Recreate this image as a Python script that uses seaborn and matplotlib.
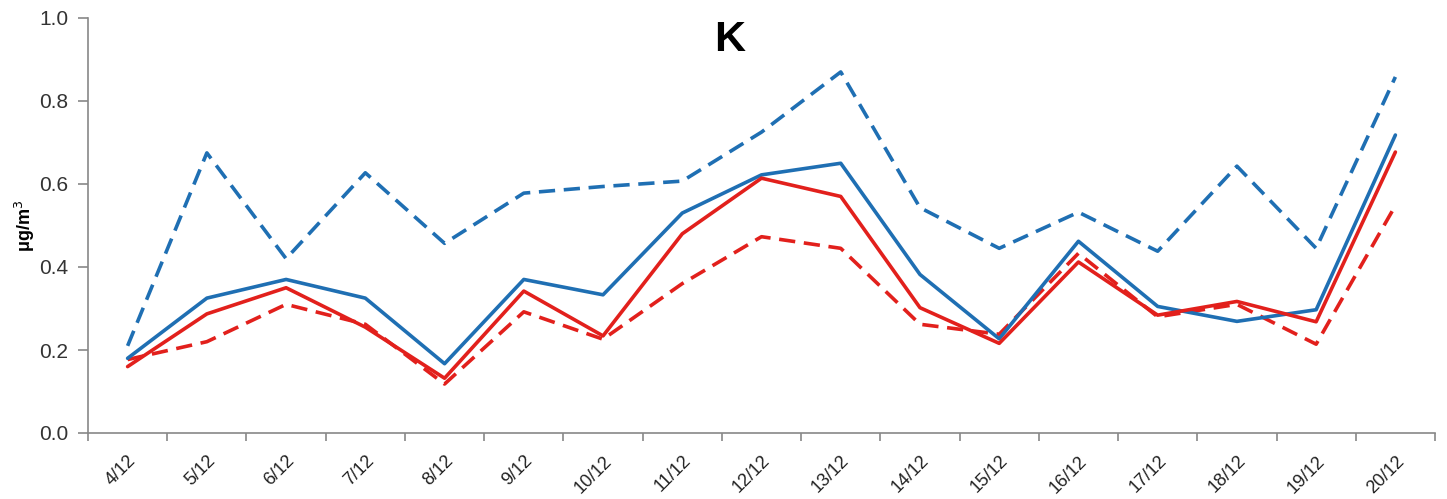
import numpy as np
import pandas as pd
import matplotlib
matplotlib.use("Agg")
import matplotlib.pyplot as plt
import seaborn as sns

dates = ["4/12", "5/12", "6/12", "7/12", "8/12", "9/12", "10/12", "11/12", "12/12",
         "13/12", "14/12", "15/12", "16/12", "17/12", "18/12", "19/12", "20/12"]

blue_solid = [0.18, 0.325, 0.37, 0.325, 0.167, 0.37, 0.333, 0.53, 0.622, 0.65,
              0.382, 0.227, 0.462, 0.305, 0.269, 0.297, 0.718]
red_solid = [0.16, 0.287, 0.35, 0.255, 0.132, 0.342, 0.234, 0.48, 0.614, 0.57,
             0.302, 0.216, 0.412, 0.284, 0.317, 0.268, 0.677]
blue_dashed = [0.21, 0.675, 0.42, 0.627, 0.457, 0.578, 0.594, 0.607, 0.725, 0.87,
               0.543, 0.445, 0.532, 0.438, 0.643, 0.445, 0.858]
red_dashed = [0.177, 0.22, 0.31, 0.262, 0.118, 0.292, 0.226, 0.36, 0.473, 0.445,
              0.262, 0.238, 0.433, 0.28, 0.31, 0.214, 0.548]

series = {"blue_solid": blue_solid, "red_solid": red_solid,
          "blue_dashed": blue_dashed, "red_dashed": red_dashed}

rows = []
for name, vals in series.items():
    for i, v in enumerate(vals):
        rows.append({"idx": i, "value": v, "series": name})
df = pd.DataFrame(rows)

sns.set_style("white")
plt.rcParams["font.family"] = ["Liberation Sans", "DejaVu Sans"]

BLUE = "#1f6fb3"
RED = "#e2201c"
palette = {"blue_solid": BLUE, "red_solid": RED, "blue_dashed": BLUE, "red_dashed": RED}
dashes = {"blue_solid": "", "red_solid": "", "blue_dashed": (4.5, 2.4), "red_dashed": (4.5, 2.4)}

fig = plt.figure(figsize=(14.47, 4.99), dpi=100)
ax = fig.add_axes([88 / 1447, 66 / 499, (1435 - 88) / 1447, 415 / 499])

sns.lineplot(data=df, x="idx", y="value", hue="series", style="series",
             palette=palette, dashes=dashes, linewidth=2.6, legend=False, ax=ax,
             hue_order=["blue_dashed", "red_dashed", "blue_solid", "red_solid"])

ax.set_xlim(-0.5, len(dates) - 0.5)
ax.set_ylim(0, 1.0)
ax.set_yticks(np.arange(0, 1.01, 0.2))
ax.set_yticklabels([f"{v:.1f}" for v in np.arange(0, 1.01, 0.2)], fontsize=15, color="#333333")

ax.set_xticks(np.arange(len(dates)))
ax.set_xticklabels(dates, rotation=45, ha="right", rotation_mode="anchor",
                   fontsize=13, color="#222222")
ax.set_xticks(np.arange(-0.5, len(dates), 1.0), minor=True)
ax.tick_params(axis="x", which="major", length=0, pad=14, bottom=True)
ax.tick_params(axis="x", which="minor", length=6, width=1.2, color="#888888",
               direction="out", bottom=True)
ax.tick_params(axis="y", which="major", length=7, width=1.2, color="#888888",
               direction="out", pad=7, left=True)

for s in ["top", "right"]:
    ax.spines[s].set_visible(False)
for s in ["left", "bottom"]:
    ax.spines[s].set_color("#888888")
    ax.spines[s].set_linewidth(1.2)

ax.set_xlabel("")
ax.set_ylabel("μg/m$^3$", fontsize=13, fontweight="bold", labelpad=2, color="black")

fig.text(730 / 1447, 1 - 40 / 499, "K", fontsize=31, fontweight="bold",
         ha="center", va="center", color="black")

fig.savefig("out.png", dpi=100, facecolor="white")
